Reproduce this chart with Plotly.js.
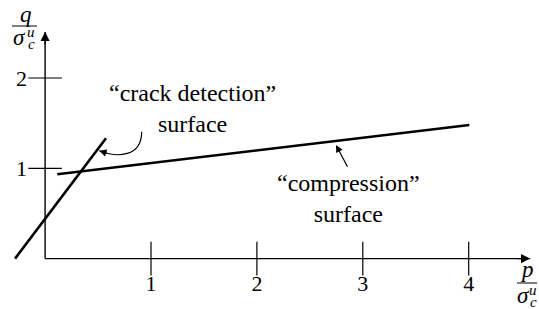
<!DOCTYPE html>
<html>
<head>
<meta charset="utf-8">
<script src="https://cdn.plot.ly/plotly-3.0.1.min.js"></script>
<style>html,body{margin:0;padding:0;background:#fff;}#chart{width:539px;height:309px;}</style>
</head>
<body>
<div id="chart"></div>
<script>
// ---- data (p/σ, q/σ units) ----
const xTickVals = [1, 2, 3, 4];
const xTickText = ['1', '2', '3', '4'];
const yTickVals = [1, 2];
const yTickText = ['1', '2'];
const crackP = [-0.284, 0.575];
const crackQ = [0.0, 1.332];
const compP = [0.115, 4.006];
const compQ = [0.934, 1.48];
const axisPEnd = 4.58;
const axisQEnd = 2.51;
const crackLabel = '“crack detection”<br>surface';
const compLabel = '“compression”<br>surface';

const W = 539, H = 309;
const FONT = '"Liberation Serif", "DejaVu Serif", serif';
const px = v => v / W;            // paper x from pixel
const py = v => 1 - v / H;        // paper y from pixel

const traces = [
  {x: [0, axisPEnd], y: [0, 0], mode: 'lines', line: {color: '#000', width: 1.4}},
  {x: [0, 0], y: [0, axisQEnd], mode: 'lines', line: {color: '#000', width: 1.4}},
  {x: xTickVals, y: xTickVals.map(() => 0), mode: 'markers', cliponaxis: false,
   marker: {symbol: 'line-ns', size: 24, line: {color: '#000', width: 1.2}}},
  {x: yTickVals.map(() => 0), y: yTickVals, mode: 'markers', cliponaxis: false,
   marker: {symbol: 'line-ew', size: 24, line: {color: '#000', width: 1.2}}},
  {x: crackP, y: crackQ, mode: 'lines', line: {color: '#000', width: 2.6}},
  {x: compP, y: compQ, mode: 'lines', line: {color: '#000', width: 2.6}}
];

const annFont = {family: FONT, size: 24, color: '#000'};
const layout = {
  width: W, height: H,
  margin: {l: 0, r: 0, t: 0, b: 0},
  paper_bgcolor: '#fff', plot_bgcolor: '#fff',
  showlegend: false,
  xaxis: {range: [-0.4259, 4.6638], anchor: 'free', position: 0.1631,
    showline: false, zeroline: false, showgrid: false,
    tickvals: xTickVals, ticktext: xTickText, ticks: '',
    ticklabelstandoff: 9,
    tickfont: {family: FONT, size: 22, color: '#000'}},
  yaxis: {range: [-0.558, 2.8638], anchor: 'free', position: 0.0837,
    showline: false, zeroline: false, showgrid: false,
    tickvals: yTickVals, ticktext: yTickText, ticks: '',
    ticklabelstandoff: 18,
    tickfont: {family: FONT, size: 22, color: '#000'}},
  shapes: [
    {type: 'path', xref: 'x', yref: 'y',
     path: 'M0.912,1.405 C0.912,1.125 0.682,1.114 0.512,1.195',
     line: {color: '#000', width: 1.2}},
    {type: 'line', xref: 'paper', yref: 'paper', x0: px(12), x1: px(37), y0: py(26), y1: py(26),
     line: {color: '#000', width: 1}},
    {type: 'line', xref: 'paper', yref: 'paper', x0: px(517), x1: px(537), y0: py(283), y1: py(283),
     line: {color: '#000', width: 1}}
  ],
  annotations: [
    // axis arrowheads
    {x: axisPEnd, y: 0, xref: 'x', yref: 'y', ax: -14, ay: 0, text: '', showarrow: true,
     arrowhead: 2, arrowsize: 1.3, arrowwidth: 1.4, arrowcolor: '#000'},
    {x: 0, y: axisQEnd, xref: 'x', yref: 'y', ax: 0, ay: 14, text: '', showarrow: true,
     arrowhead: 2, arrowsize: 1.3, arrowwidth: 1.4, arrowcolor: '#000'},
    // curved arrow head
    {x: 0.512, y: 1.195, xref: 'x', yref: 'y', ax: 9, ay: 3, text: '', showarrow: true,
     arrowhead: 2, arrowsize: 1.2, arrowwidth: 1.2, arrowcolor: '#000'},
    // compression arrow
    {x: 2.747, y: 1.258, xref: 'x', yref: 'y', ax: 2.863, ay: 1.0, axref: 'x', ayref: 'y',
     text: '', showarrow: true, arrowhead: 2, arrowsize: 1.2, arrowwidth: 1.2, arrowcolor: '#000'},
    // labels
    {x: px(192), y: py(108), xref: 'paper', yref: 'paper', text: crackLabel, showarrow: false,
     xanchor: 'center', yanchor: 'middle', font: annFont, align: 'center'},
    {x: px(348), y: py(198), xref: 'paper', yref: 'paper', text: compLabel, showarrow: false,
     xanchor: 'center', yanchor: 'middle', font: annFont, align: 'center'},
    // y axis label q / σ_c^u
    {x: px(26), y: py(14), xref: 'paper', yref: 'paper', text: '<i>q</i>', showarrow: false,
     xanchor: 'center', yanchor: 'middle', borderpad: 0, font: {family: FONT, size: 23, color: '#000'}},
    {x: px(19), y: py(37), xref: 'paper', yref: 'paper', text: '<i>σ</i>', showarrow: false,
     xanchor: 'center', yanchor: 'middle', borderpad: 0, font: {family: FONT, size: 23, color: '#000'}},
    {x: px(31), y: py(32), xref: 'paper', yref: 'paper', text: '<i>u</i>', showarrow: false,
     xanchor: 'center', yanchor: 'middle', borderpad: 0, font: {family: FONT, size: 15, color: '#000'}},
    {x: px(31), y: py(44), xref: 'paper', yref: 'paper', text: '<i>c</i>', showarrow: false,
     xanchor: 'center', yanchor: 'middle', borderpad: 0, font: {family: FONT, size: 15, color: '#000'}},
    // x axis label p / σ_c^u
    {x: px(527), y: py(269), xref: 'paper', yref: 'paper', text: '<i>p</i>', showarrow: false,
     xanchor: 'center', yanchor: 'middle', borderpad: 0, font: {family: FONT, size: 23, color: '#000'}},
    {x: px(523), y: py(295), xref: 'paper', yref: 'paper', text: '<i>σ</i>', showarrow: false,
     xanchor: 'center', yanchor: 'middle', borderpad: 0, font: {family: FONT, size: 23, color: '#000'}},
    {x: px(533), y: py(290), xref: 'paper', yref: 'paper', text: '<i>u</i>', showarrow: false,
     xanchor: 'center', yanchor: 'middle', borderpad: 0, font: {family: FONT, size: 15, color: '#000'}},
    {x: px(533), y: py(302), xref: 'paper', yref: 'paper', text: '<i>c</i>', showarrow: false,
     xanchor: 'center', yanchor: 'middle', borderpad: 0, font: {family: FONT, size: 15, color: '#000'}}
  ]
};

Plotly.newPlot('chart', traces, layout, {staticPlot: true, displayModeBar: false});
</script>
</body>
</html>
